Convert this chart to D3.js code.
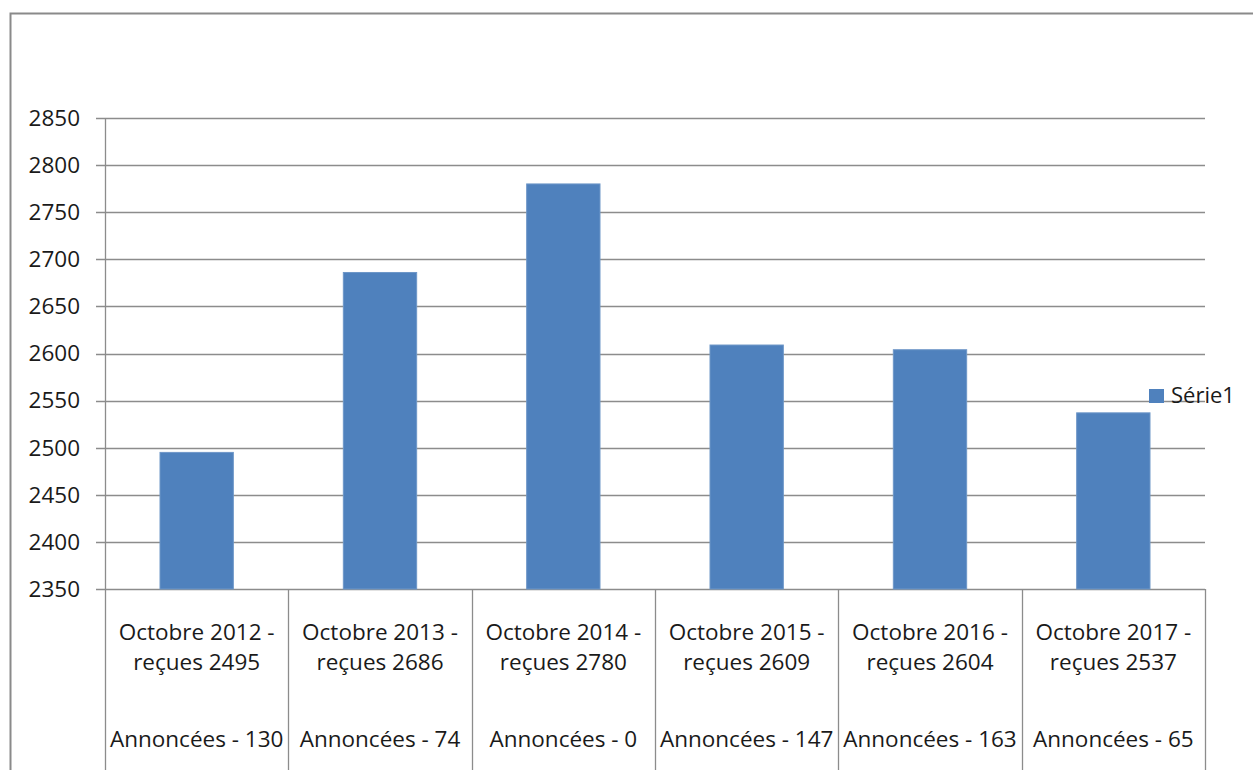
<!DOCTYPE html>
<html>
<head>
<meta charset="utf-8">
<script src="https://cdn.jsdelivr.net/npm/d3@7"></script>
<style>
  body { margin: 0; background: #fff; }
  svg { display: block; }
</style>
</head>
<body>
<svg></svg>
<script>
document.addEventListener("DOMContentLoaded", function() {

    // data
    var years = ["2012", "2013", "2014", "2015", "2016", "2017"];
    var recues = [2495, 2686, 2780, 2609, 2604, 2537];
    var annoncees = [130, 74, 0, 147, 163, 65];
    var yTicks = [2350, 2400, 2450, 2500, 2550, 2600, 2650, 2700, 2750, 2800, 2850];
    var seriesName = "Série1";

    var width = 1253;
    var height = 770;
    var left = 105, right = 1205, top = 118, bottom = 589;
    var font = '"Open Sans", sans-serif';
    var gridColor = "#8c8c8c";
    var barColor = "#4f81bd";
    var textColor = "#1a1a1a";

    var svg = d3.select("svg")
        .attr("width", width)
        .attr("height", height);

    // outer chart frame (runs off the picture on the right and bottom)
    svg.append("rect")
        .attr("x", 10.5)
        .attr("y", 13.5)
        .attr("width", 1300)
        .attr("height", 800)
        .attr("fill", "none")
        .attr("stroke", "#8a8a8a")
        .attr("stroke-width", 2);

    var yScale = d3.scaleLinear()
        .domain([2350, 2850])
        .range([bottom, top]);

    var xScale = d3.scaleBand()
        .domain(years)
        .range([left, right])
        .paddingInner(0.6)
        .paddingOuter(0.3);

    // same categories without padding, for the divider lines
    var catScale = d3.scaleBand()
        .domain(years)
        .range([left, right]);

    // horizontal gridlines + tick marks
    svg.append("g")
        .selectAll("line")
        .data(yTicks)
        .enter()
        .append("line")
        .attr("x1", left - 9)
        .attr("x2", right)
        .attr("y1", d => Math.round(yScale(d)) + 0.5)
        .attr("y2", d => Math.round(yScale(d)) + 0.5)
        .attr("stroke", gridColor)
        .attr("stroke-width", 1.3);

    // y axis labels
    svg.append("g")
        .selectAll("text")
        .data(yTicks)
        .enter()
        .append("text")
        .attr("x", 80)
        .attr("y", d => yScale(d))
        .attr("dy", "0.35em")
        .attr("text-anchor", "end")
        .style("font-family", font)
        .style("font-size", "22.5px")
        .attr("fill", textColor)
        .text(d => d);

    // bars
    svg.append("g")
        .selectAll("rect")
        .data(years)
        .enter()
        .append("rect")
        .attr("x", d => xScale(d))
        .attr("width", xScale.bandwidth())
        .attr("y", (d, i) => yScale(recues[i]))
        .attr("height", (d, i) => bottom - yScale(recues[i]))
        .attr("fill", barColor)
        .attr("stroke", "#6e97c8")
        .attr("stroke-width", 1);

    // vertical axis line
    svg.append("line")
        .attr("x1", left + 0.5).attr("x2", left + 0.5)
        .attr("y1", top).attr("y2", height)
        .attr("stroke", gridColor)
        .attr("stroke-width", 1.3);

    // category dividers below the axis
    var edges = years.map(d => catScale(d) + catScale.bandwidth());
    svg.append("g")
        .selectAll("line")
        .data(edges)
        .enter()
        .append("line")
        .attr("x1", d => Math.round(d) + 0.5)
        .attr("x2", d => Math.round(d) + 0.5)
        .attr("y1", bottom)
        .attr("y2", height)
        .attr("stroke", gridColor)
        .attr("stroke-width", 1.3);

    // category labels
    var labels = svg.append("g")
        .selectAll("g")
        .data(years)
        .enter()
        .append("g")
        .attr("transform", d => `translate(${catScale(d) + catScale.bandwidth() / 2},0)`)
        .style("font-family", font)
        .style("font-size", "22.5px")
        .attr("fill", textColor)
        .attr("text-anchor", "middle");

    labels.append("text")
        .attr("y", 640)
        .text(d => `Octobre ${d} -`);
    labels.append("text")
        .attr("y", 670)
        .text((d, i) => `reçues ${recues[i]}`);
    labels.append("text")
        .attr("y", 747)
        .text((d, i) => `Annoncées - ${annoncees[i]}`);

    // legend
    var legend = svg.append("g");
    legend.append("rect")
        .attr("x", 1149)
        .attr("y", 389)
        .attr("width", 15)
        .attr("height", 14)
        .attr("fill", barColor);
    legend.append("text")
        .attr("x", 1171)
        .attr("y", 403)
        .style("font-family", font)
        .style("font-size", "22px")
        .attr("fill", textColor)
        .text(seriesName);

});
</script>
</body>
</html>
